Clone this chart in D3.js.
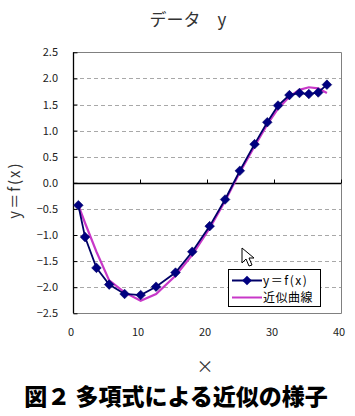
<!DOCTYPE html>
<html><head><meta charset="utf-8">
<script src="https://cdn.jsdelivr.net/npm/d3@7/dist/d3.min.js"></script>
<style>
html,body{margin:0;padding:0;background:#fff;}
text{font-family:"Noto Sans CJK JP","Noto Sans",sans-serif;}
</style></head>
<body><svg id="c" width="355" height="416"></svg>
<script>
const xValues = [0.8,1.8,3.5,5.4,7.7,10.1,12.4,15.3,17.8,20.4,22.7,24.9,27.1,29.0,30.6,32.3,33.8,35.2,36.6,37.9];
const yValues = [-0.43,-1.04,-1.63,-1.95,-2.13,-2.15,-1.99,-1.72,-1.32,-0.83,-0.32,0.23,0.74,1.16,1.48,1.68,1.72,1.70,1.73,1.88];
const fitValues = [-0.43,-0.77,-1.32,-1.87,-2.10,-2.26,-2.13,-1.78,-1.38,-0.87,-0.35,0.20,0.70,1.12,1.42,1.65,1.78,1.83,1.81,1.72];
const xTicks = [0,10,20,30,40];
const yTicks = [2.5,2.0,1.5,1.0,0.5,0.0,-0.5,-1.0,-1.5,-2.0,-2.5];
const seriesNames = ["y＝f(x)","近似曲線"];
const titleText = "データ　y";
const xLabel = "×";
const yLabel = "y＝f(x)";
const caption = "図２ 多項式による近似の様子";

const svg = d3.select("#c");
const L=73, R=341, T=52.3, B=313.3;
const x = d3.scaleLinear().domain([0,40]).range([L,R]);
const y = d3.scaleLinear().domain([-2.5,2.5]).range([B,T]);

// gridlines
svg.append("g").selectAll("line").data(yTicks.filter(v=>Math.abs(v)>1e-9 && Math.abs(v)<2.5))
  .join("line").attr("x1",L).attr("x2",R).attr("y1",d=>Math.round(y(d))+0.5).attr("y2",d=>Math.round(y(d))+0.5)
  .attr("stroke","#a8a8a8").attr("stroke-dasharray","4,3").attr("stroke-width",1);

// frame: top, right, bottom gray
svg.append("path").attr("d",`M${L},${Math.round(T)+0.5}H${R+0.5}V${Math.round(B)+0.5}H${L}`)
  .attr("fill","none").attr("stroke","#808080").attr("stroke-width",1);

// y axis (left) with inside ticks
const yAxis = d3.axisRight(y).tickValues(yTicks).tickSize(4).tickFormat("");
const ya = svg.append("g").attr("transform",`translate(${L+0.5},0)`).call(yAxis);
ya.select(".domain").attr("stroke","#000").attr("stroke-width",1.3).attr("d",`M0,${T}V${B}`);
ya.selectAll(".tick line").attr("stroke","#000");

// y tick labels
svg.append("g").selectAll("text").data(yTicks).join("text")
  .attr("x",58).attr("y",d=>y(d)+4).attr("text-anchor","end")
  .attr("font-size",11).attr("fill","#222")
  .text(d=>d3.format(".1f")(d).replace("-","−"));

// x axis at y=0 with ticks pointing up
const xAxis = d3.axisTop(x).tickValues(xTicks).tickSize(4).tickFormat("");
const xa = svg.append("g").attr("transform",`translate(0,${Math.round(y(0))+0.5})`).call(xAxis);
xa.select(".domain").attr("stroke","#000").attr("stroke-width",1.3).attr("d",`M${L},0H${R}`);
xa.selectAll(".tick line").attr("stroke","#000");

// x tick labels at bottom
svg.append("g").selectAll("text").data(xTicks).join("text")
  .attr("x",d=>x(d)-2).attr("y",336).attr("text-anchor","middle")
  .attr("font-size",11).attr("fill","#222").text(d=>d);

// fit line
const line = d3.line().x((d,i)=>x(xValues[i])).y(d=>y(d));
svg.append("path").datum(fitValues).attr("d",line).attr("fill","none")
  .attr("stroke","#c838c8").attr("stroke-width",2.2);

// data line
svg.append("path").datum(yValues).attr("d",line).attr("fill","none")
  .attr("stroke","#000066").attr("stroke-width",1.8);

// diamonds
const s=4.8;
svg.append("g").selectAll("path").data(yValues).join("path")
  .attr("transform",(d,i)=>`translate(${x(xValues[i])},${y(d)})`)
  .attr("d",`M0,${-s}L${s},0L0,${s}L${-s},0Z`).attr("fill","#000080").attr("stroke","#000066").attr("stroke-width",0.6);

// title
svg.append("text").attr("x",188).attr("y",26).attr("text-anchor","middle")
  .attr("font-size",17).attr("fill","#333").text(titleText);

// y label rotated
svg.append("text").attr("transform","translate(20,190) rotate(-90)").attr("text-anchor","middle")
  .attr("font-size",15).attr("letter-spacing",2).attr("fill","#333").text(yLabel);

// x label
svg.append("text").attr("x",205).attr("y",373).attr("text-anchor","middle")
  .attr("font-size",17).attr("fill","#333").text(xLabel);

// caption
svg.append("text").attr("x",176).attr("y",405).attr("text-anchor","middle")
  .attr("font-size",23).attr("font-weight",900).attr("fill","#000").text(caption);

// legend
const lg = svg.append("g");
lg.append("rect").attr("x",228.5).attr("y",269.5).attr("width",92).attr("height",37)
  .attr("fill","#fff").attr("stroke","#000").attr("stroke-width",1);
const rows=[{c:"#000066",m:true,yy:280.5},{c:"#c838c8",m:false,yy:297.5}];
rows.forEach((r,i)=>{
  lg.append("line").attr("x1",232).attr("x2",262).attr("y1",r.yy).attr("y2",r.yy)
    .attr("stroke",r.c).attr("stroke-width",2);
  if(r.m) lg.append("path").attr("transform",`translate(247,${r.yy})`)
    .attr("d",`M0,${-s}L${s},0L0,${s}L${-s},0Z`).attr("fill","#000080");
  lg.append("text").attr("x",263).attr("y",r.yy+4).attr("font-size",12)
    .attr("letter-spacing",i?0.5:1.5).attr("fill","#000").text(seriesNames[i]);
});

// mouse cursor artifact
svg.append("path").attr("d","M242,248 L242,263 L246,259 L249,266 L252,265 L249,258 L254,258 Z")
  .attr("fill","#fff").attr("stroke","#000").attr("stroke-width",1);
</script></body></html>
